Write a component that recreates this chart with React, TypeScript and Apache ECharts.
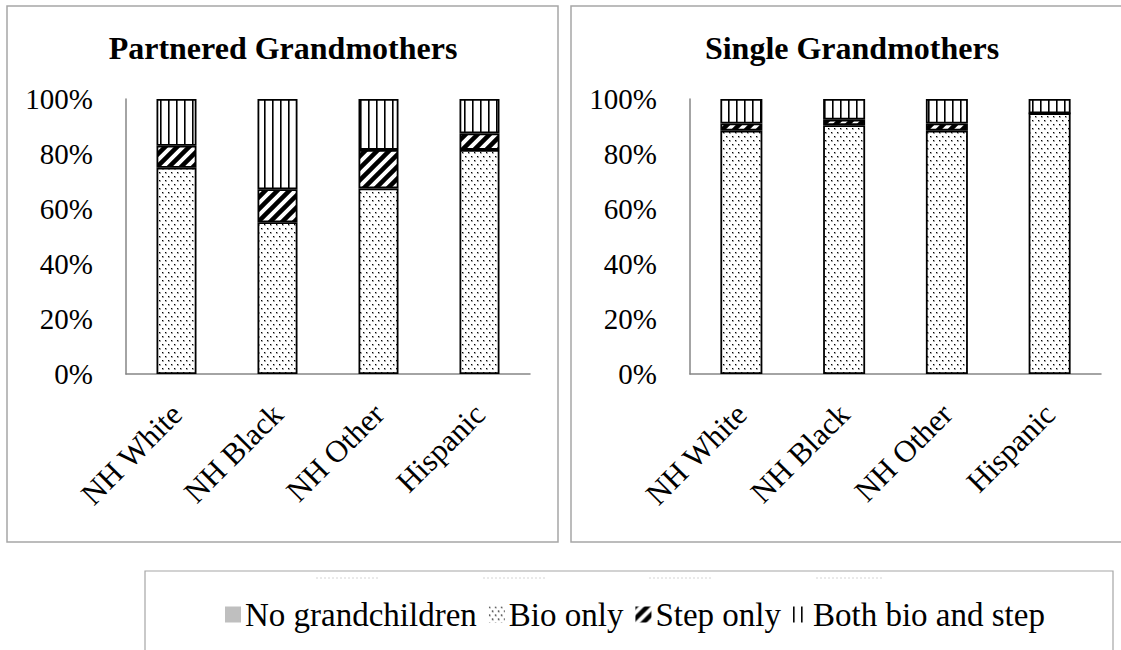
import React, { useEffect, useRef } from "react";
import * as echarts from "echarts";

const categories = ["NH White", "NH Black", "NH Other", "Hispanic"];
const seriesNames = ["No grandchildren", "Bio only", "Step only", "Both bio and step"];
const yTicks = [0, 20, 40, 60, 80, 100];

const partneredNone = [0, 0, 0, 0];
const partneredBio = [75, 55.2, 67.5, 81.5];
const partneredStep = [8, 12, 14, 6];
const partneredBoth = [17, 32.8, 18.5, 12.5];

const singleNone = [0, 0, 0, 0];
const singleBio = [88.5, 90.5, 88.5, 94.8];
const singleStep = [2.6, 2, 2.6, 0];
const singleBoth = [8.9, 7.5, 8.9, 5.2];

const panelTitles = ["Partnered Grandmothers", "Single Grandmothers"];

const FONT = '"Liberation Serif", "Times New Roman", serif';

function tile(w: number, h: number, draw: (c: CanvasRenderingContext2D) => void) {
  const cv = document.createElement("canvas");
  cv.width = w;
  cv.height = h;
  const ctx = cv.getContext("2d")!;
  ctx.fillStyle = "#ffffff";
  ctx.fillRect(0, 0, w, h);
  draw(ctx);
  return { image: cv, repeat: "repeat", imageWidth: w, imageHeight: h } as any;
}

export default function App() {
  const ref = useRef<HTMLDivElement>(null);

  useEffect(() => {
    if (!ref.current) return;
    const chart = echarts.init(ref.current, null, { renderer: "svg" });

    const dots = tile(6, 8, (c) => {
      c.fillStyle = "#aaa";
      c.fillRect(0, 0, 2, 2);
      c.fillRect(3, 4, 2, 2);
      c.fillStyle = "#000";
      c.fillRect(0, 0, 1, 1);
      c.fillRect(3, 4, 1, 1);
    });
    const stripes = tile(12, 12, (c) => {
      c.strokeStyle = "#000";
      c.lineWidth = 4.5;
      c.beginPath();
      c.moveTo(-2, 2);
      c.lineTo(2, -2);
      c.moveTo(-2, 14);
      c.lineTo(14, -2);
      c.moveTo(10, 14);
      c.lineTo(14, 10);
      c.stroke();
    });
    const vlines = tile(8, 8, (c) => {
      c.fillStyle = "#000";
      c.fillRect(0, 0, 1, 8);
      c.fillStyle = "#666";
      c.fillRect(1, 0, 1, 8);
    });

    const fills = ["#bfbfbf", dots, stripes, vlines];
    const data = [
      [partneredNone, partneredBio, partneredStep, partneredBoth],
      [singleNone, singleBio, singleStep, singleBoth],
    ];
    const grids = [
      { left: 126, top: 99, width: 404, height: 275 },
      { left: 690, top: 99, width: 411, height: 275 },
    ];
    const barWidths = [40, 42];

    const series: any[] = [];
    data.forEach((set, gi) => {
      set.forEach((vals, si) => {
        series.push({
          type: "bar",
          name: seriesNames[si],
          stack: "s" + gi,
          xAxisIndex: gi,
          yAxisIndex: gi,
          barWidth: barWidths[gi],
          data: vals,
          itemStyle: {
            color: fills[si],
            borderColor: "#000",
            borderWidth: si === 0 ? 0 : 1.8,
          },
        });
      });
    });

    const axisLineStyle = { show: true, lineStyle: { color: "#868686", width: 1.5 } };

    chart.setOption({
      animation: false,
      backgroundColor: "#ffffff",
      grid: grids.map((g) => ({ ...g, containLabel: false })),
      xAxis: grids.map((_, gi) => ({
        type: "category",
        gridIndex: gi,
        data: categories,
        axisLine: axisLineStyle,
        axisTick: { show: false },
        axisLabel: {
          rotate: 45,
          margin: 35,
          interval: 0,
          color: "#000",
          fontFamily: FONT,
          fontSize: 31,
        },
        splitLine: { show: false },
      })),
      yAxis: grids.map((_, gi) => ({
        type: "value",
        gridIndex: gi,
        min: yTicks[0],
        max: yTicks[yTicks.length - 1],
        interval: yTicks[1] - yTicks[0],
        axisLine: axisLineStyle,
        axisTick: { show: false },
        splitLine: { show: false },
        axisLabel: {
          margin: 33,
          color: "#000",
          fontFamily: FONT,
          fontSize: 29,
          formatter: (v: number) => v + "%",
        },
      })),
      legend: {
        data: seriesNames,
        left: 220,
        top: 593,
        icon: "rect",
        itemWidth: 16,
        itemHeight: 16,
        itemGap: 12,
        selectedMode: false,
        itemStyle: { borderWidth: 0 },
        textStyle: { color: "#000", fontFamily: FONT, fontSize: 33, padding: [0, 0, 0, -1] },
      },
      series,
      graphic: [
        {
          type: "rect",
          shape: { x: 7, y: 6, width: 551, height: 536 },
          style: { fill: "none", stroke: "#a6a6a6", lineWidth: 1.5 },
          silent: true,
          z: -1,
        },
        {
          type: "rect",
          shape: { x: 571, y: 6, width: 600, height: 536 },
          style: { fill: "none", stroke: "#a6a6a6", lineWidth: 1.5 },
          silent: true,
          z: -1,
        },
        {
          type: "rect",
          shape: { x: 145, y: 571, width: 968, height: 120 },
          style: { fill: "none", stroke: "#a6a6a6", lineWidth: 1.2 },
          silent: true,
          z: -1,
        },
        ...[
          [316, 380],
          [483, 546],
          [649, 713],
          [816, 882],
        ].map(([a, b]) => ({
          type: "line",
          shape: { x1: a, y1: 578, x2: b, y2: 578 },
          style: { stroke: "#d4d4d4", lineWidth: 1, lineDash: [2, 2] },
          silent: true,
        })),
        {
          type: "text",
          x: 283,
          y: 48,
          style: {
            text: panelTitles[0],
            font: `bold 32px ${FONT}`,
            fill: "#000",
            textAlign: "center",
            align: "center",
            textVerticalAlign: "middle",
            verticalAlign: "middle",
          },
        },
        {
          type: "text",
          x: 852,
          y: 48,
          style: {
            text: panelTitles[1],
            font: `bold 32px ${FONT}`,
            fill: "#000",
            textAlign: "center",
            align: "center",
            textVerticalAlign: "middle",
            verticalAlign: "middle",
          },
        },
      ],
    });

    return () => chart.dispose();
  }, []);

  return (
    <div
      ref={ref}
      style={{ position: "absolute", left: 0, top: 0, width: 1121, height: 650, background: "#fff" }}
    />
  );
}
